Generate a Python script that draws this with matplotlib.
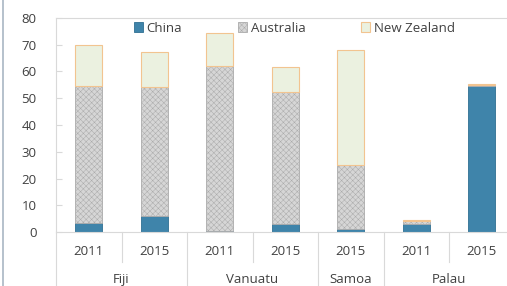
import matplotlib
matplotlib.use("Agg")
import matplotlib.pyplot as plt
from matplotlib.lines import Line2D
import numpy as np

# ── Data ──────────────────────────────────────────────────────────
years     = ['2011', '2015', '2011', '2015', '2015', '2011', '2015']
groups    = ['Fiji', 'Vanuatu', 'Samoa', 'Palau']
group_len = [2, 2, 1, 2]

china       = [3.5, 6.0, 0.5, 2.9, 1.0, 2.9, 54.5]
australia   = [51.2, 48.1, 61.7, 49.3, 24.0, 1.2, 0.3]
new_zealand = [15.2, 13.3, 12.1, 9.4, 43.2, 0.4, 0.4]

# ── Style ─────────────────────────────────────────────────────────
plt.rcParams['font.family'] = ['Open Sans', 'DejaVu Sans']
plt.rcParams['hatch.linewidth'] = 0.35
TXT  = '#404040'
GRID = '#D9D9D9'

fig = plt.figure(figsize=(5.07, 2.86), dpi=100)
ax = fig.add_axes([56/507, 54/286, 458.5/507, 214/286])

x = np.arange(len(years))
w = 0.405
c = np.array(china)
a = np.array(australia)
n = np.array(new_zealand)

ax.bar(x, c, w, color='#3F84AA', edgecolor='#2F6F92', lw=0.6, label='China')
ax.bar(x, a, w, bottom=c, color='#D6D6D6', edgecolor='#ABABAB', lw=0.6,
       hatch='xxxxxx', label='Australia')
ax.bar(x, n, w, bottom=c + a, color='#EBF1E0', edgecolor='#F2C490', lw=0.8,
       label='New Zealand')

ax.set_xlim(-0.5, len(years) - 0.5)
ax.set_ylim(0, 80)
ax.set_yticks(range(0, 81, 10))
ax.tick_params(axis='y', direction='in', length=4, color=GRID,
               labelsize=9.5, labelcolor=TXT, pad=14)
ax.set_xticks([])
for s in ['left', 'top', 'bottom', 'right']:
    ax.spines[s].set_color(GRID)
    ax.spines[s].set_linewidth(0.8)

# year labels + short separators
tr = ax.get_xaxis_transform()
for i, yr in enumerate(years):
    ax.text(i, -0.093, yr, transform=tr, ha='center', va='center',
            fontsize=9.5, color=TXT)

bounds = np.cumsum([0] + group_len)
for i in range(len(years) + 1):
    xpos = i - 0.5
    y1 = -0.3 if i in bounds else -0.14
    ax.add_line(Line2D([xpos, xpos], [0, y1], transform=tr, color=GRID,
                       lw=0.8, clip_on=False))

# group labels (nudged up a little so they stay inside the picture)
for g, s, e in zip(groups, bounds[:-1], bounds[1:]):
    ax.text((s + e - 1) / 2, -0.222, g, transform=tr, ha='center',
            va='center', fontsize=9.5, color=TXT)

leg = ax.legend(loc='center', bbox_to_anchor=(0.52, 0.953), ncol=3,
                frameon=False, fontsize=9.5, handlelength=0.7,
                handleheight=0.7, handletextpad=0.3, columnspacing=4.2,
                labelcolor=TXT)

# outer frame line at left
fig.add_artist(Line2D([3/507, 3/507], [0, 1], transform=fig.transFigure,
                      color='#A9B6C4', lw=1.2))

fig.savefig('out.png', dpi=100)
